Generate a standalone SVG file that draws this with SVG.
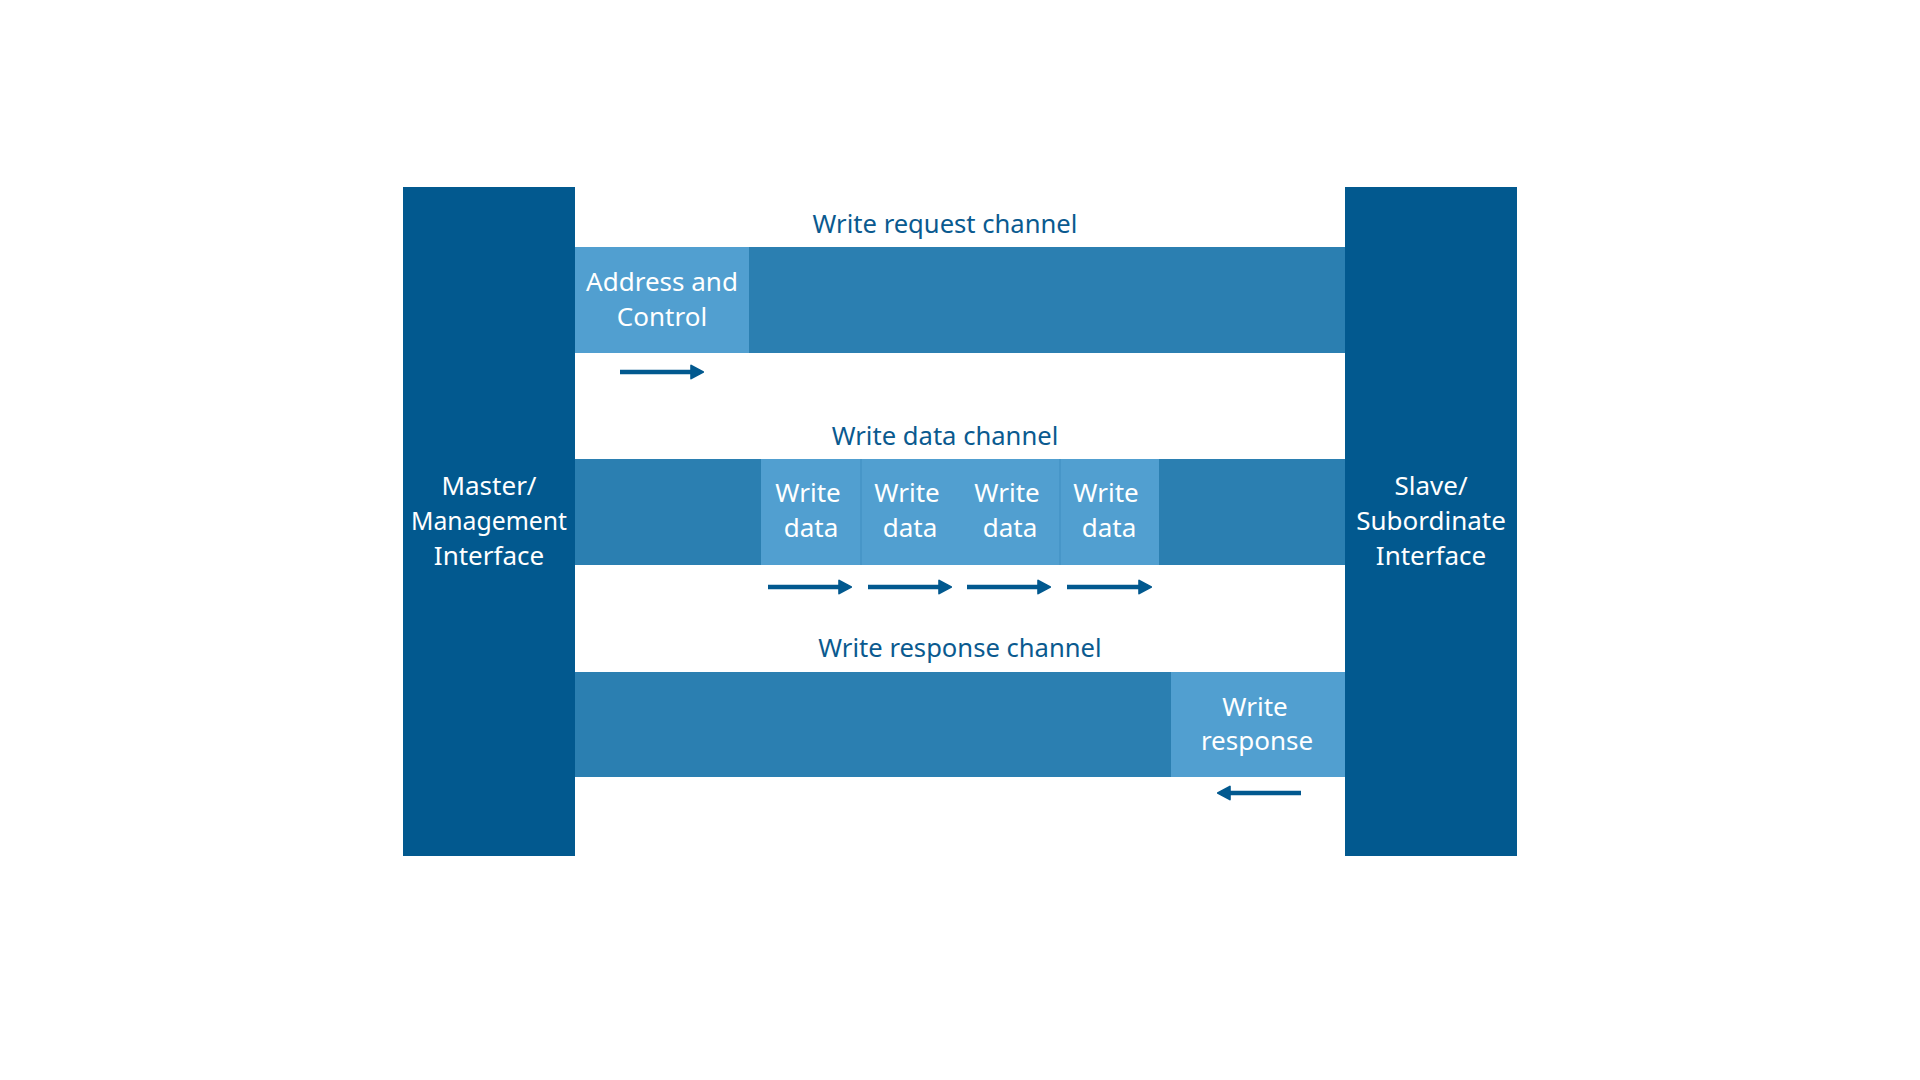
<svg xmlns="http://www.w3.org/2000/svg" width="1920" height="1080" viewBox="0 0 1920 1080">
<defs>
<style>
.iface{fill:#02598F}
.bar{fill:#2B7FB1}
.pkt{fill:#519FD0}
.seam{stroke:#3E8DC0;stroke-width:1}
.wt{font-family:"Noto Sans","Open Sans",sans-serif;font-size:26px;fill:#FFFFFF;text-anchor:middle}
.lbl{font-family:"Noto Sans","Open Sans",sans-serif;font-size:25.6px;fill:#0A5A8F;text-anchor:middle}
.arr{stroke:#02598F;stroke-width:4.5;fill:none}
</style>
<marker id="ah" viewBox="0 0 10 10" refX="7" refY="5" markerWidth="3.3" markerHeight="4.6" orient="auto" markerUnits="strokeWidth">
<path d="M1,0.6 L9.2,5 L1,9.4 Z" fill="#02598F" stroke="#02598F" stroke-width="1.2" stroke-linejoin="round"/>
</marker>
</defs>
<rect width="1920" height="1080" fill="#FFFFFF"/>

<g id="master">
<rect class="iface" x="403" y="187" width="172" height="669"/>
<text class="wt"><tspan x="489" y="495">Master/</tspan><tspan x="489" y="530" textLength="156" lengthAdjust="spacingAndGlyphs">Management</tspan><tspan x="489" y="565">Interface</tspan></text>
</g>

<g id="slave">
<rect class="iface" x="1345" y="187" width="172" height="669"/>
<text class="wt"><tspan x="1431" y="495">Slave/</tspan><tspan x="1431" y="530">Subordinate</tspan><tspan x="1431" y="565">Interface</tspan></text>
</g>

<g id="write-request-channel">
<text class="lbl" x="945" y="233">Write request channel</text>
<rect class="bar" x="575" y="247" width="770" height="106"/>
</g>
<g id="address-control">
<rect class="pkt" x="575" y="247" width="174" height="106"/>
<text class="wt"><tspan x="662" y="291">Address and</tspan><tspan x="662" y="326">Control</tspan></text>
</g>

<g id="write-data-channel">
<text class="lbl" x="945" y="445">Write data channel</text>
<rect class="bar" x="575" y="459" width="770" height="106"/>
</g>
<g id="write-data-1">
<rect class="pkt" x="761" y="459" width="100" height="106"/>
<text class="wt"><tspan x="808" y="502">Write</tspan><tspan x="811" y="537">data</tspan></text>
</g>
<g id="write-data-2">
<rect class="pkt" x="861" y="459" width="100" height="106"/>
<text class="wt"><tspan x="907" y="502">Write</tspan><tspan x="910" y="537">data</tspan></text>
</g>
<g id="write-data-3">
<rect class="pkt" x="960" y="459" width="100" height="106"/>
<text class="wt"><tspan x="1007" y="502">Write</tspan><tspan x="1010" y="537">data</tspan></text>
</g>
<g id="write-data-4">
<rect class="pkt" x="1060" y="459" width="99" height="106"/>
<text class="wt"><tspan x="1106" y="502">Write</tspan><tspan x="1109" y="537">data</tspan></text>
</g>
<line class="seam" x1="861" y1="459" x2="861" y2="565"/>
<line class="seam" x1="1060" y1="459" x2="1060" y2="565"/>

<g id="write-response-channel">
<text class="lbl" x="960" y="657">Write response channel</text>
<rect class="bar" x="575" y="672" width="770" height="105"/>
</g>
<g id="write-response">
<rect class="pkt" x="1171" y="672" width="174" height="105"/>
<text class="wt"><tspan x="1255" y="716">Write</tspan><tspan x="1257" y="750">response</tspan></text>
</g>

<g id="connectors">
<line class="arr" x1="620" y1="372" x2="700" y2="372" marker-end="url(#ah)"/>
<line class="arr" x1="768" y1="587" x2="848" y2="587" marker-end="url(#ah)"/>
<line class="arr" x1="868" y1="587" x2="948" y2="587" marker-end="url(#ah)"/>
<line class="arr" x1="967" y1="587" x2="1047" y2="587" marker-end="url(#ah)"/>
<line class="arr" x1="1067" y1="587" x2="1148" y2="587" marker-end="url(#ah)"/>
<line class="arr" x1="1301" y1="793" x2="1221" y2="793" marker-end="url(#ah)"/>
</g>
</svg>
